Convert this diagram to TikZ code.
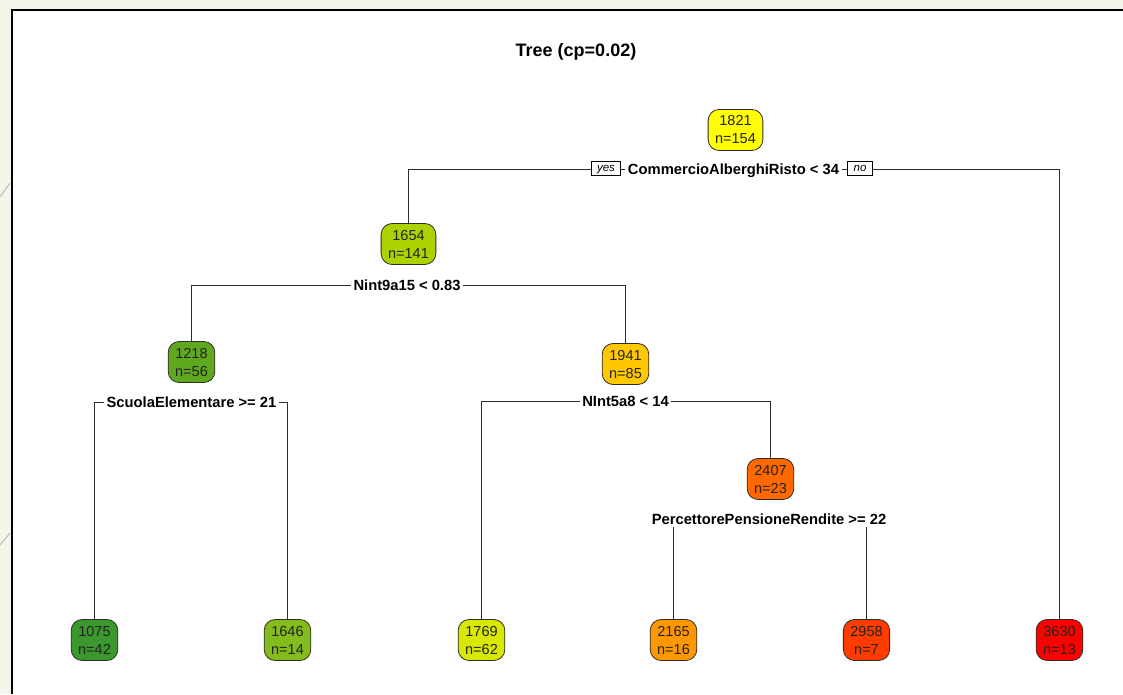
\documentclass[tikz,border=0pt]{standalone}
\usepackage{fontspec}
\setmainfont{Liberation Sans}
\pgfdeclarelayer{back}
\pgfdeclarelayer{mid}
\pgfsetlayers{back,mid,main}
\definecolor{bgc}{RGB}{243,245,234}
\definecolor{edgec}{RGB}{45,45,45}
\definecolor{txtc}{RGB}{35,35,35}
\definecolor{cA}{RGB}{255,255,0}
\definecolor{cB}{RGB}{172,210,0}
\definecolor{cC}{RGB}{95,168,32}
\definecolor{cD}{RGB}{255,200,0}
\definecolor{cE}{RGB}{255,105,0}
\definecolor{cF}{RGB}{58,152,46}
\definecolor{cG}{RGB}{132,188,28}
\definecolor{cH}{RGB}{216,232,0}
\definecolor{cI}{RGB}{255,152,0}
\definecolor{cJ}{RGB}{255,60,0}
\definecolor{cK}{RGB}{255,0,0}
\begin{document}
\begin{tikzpicture}[x=1pt,y=-1pt,
  valnode/.style={draw=edgec, line width=0.8pt, rounded corners=11pt, minimum height=41pt,
    inner ysep=0pt, inner xsep=7pt, align=center, text=txtc,
    font=\fontsize{14.5}{18}\selectfont},
  splitlab/.style={fill=white, inner xsep=2.5pt, inner ysep=2.5pt, text height=10.5pt,
    text depth=0pt, font=\bfseries\fontsize{14.75}{18}\selectfont},
  ynbox/.style={draw=black, fill=white, line width=0.7pt, minimum height=14pt,
    inner xsep=5.8pt, inner ysep=0pt, text height=6pt, text depth=0pt,
    font=\itshape\fontsize{11.5}{13}\selectfont},
  conn/.style={draw=edgec, line width=1.3pt},
  decoline/.style={draw=gray!60, line width=0.8pt}
]
\useasboundingbox (0,0) rectangle (1123,694);
\begin{pgfonlayer}{back}
  \fill[bgc] (0,0) rectangle (1123,694);
  \draw[decoline] (0,197) -- (10,183);
  \draw[decoline] (0,545) -- (10,533);
  \fill[white] (12.2,10.2) rectangle (1123,694);
  \draw[black, line width=2.3pt] (12.2,694) -- (12.2,10.2) -- (1123,10.2);
\end{pgfonlayer}

% title
\node[anchor=base, font=\bfseries\fontsize{18}{20}\selectfont] (title) at (576,56) {Tree (cp=0.02)};

% tree nodes
\node[valnode, fill=cA] (n1821) at (735.5,130) {1821\\n=154};
\node[valnode, fill=cB] (n1654) at (408.5,244) {1654\\n=141};
\node[valnode, fill=cC] (n1218) at (191.5,362) {1218\\n=56};
\node[valnode, fill=cD] (n1941) at (625.5,364) {1941\\n=85};
\node[valnode, fill=cE] (n2407) at (770.5,479) {2407\\n=23};
\node[valnode, fill=cF] (n1075) at (94.5,640) {1075\\n=42};
\node[valnode, fill=cG] (n1646) at (287.5,640) {1646\\n=14};
\node[valnode, fill=cH] (n1769) at (481.5,640) {1769\\n=62};
\node[valnode, fill=cI] (n2165) at (673.5,640) {2165\\n=16};
\node[valnode, fill=cJ] (n2958) at (866.5,640) {2958\\n=7};
\node[valnode, fill=cK] (n3630) at (1059.5,640) {3630\\n=13};

% split labels
\node[splitlab] (s1) at (733.5,169.5) {CommercioAlberghiRisto < 34};
\node[ynbox] (yes) at (606,168) {yes};
\node[ynbox] (no) at (860,168) {no};
\node[splitlab] (s2) at (407,285.5) {Nint9a15 < 0.83};
\node[splitlab] (s3) at (191.5,402.5) {ScuolaElementare >= 21};
\node[splitlab] (s4) at (625.5,401.5) {NInt5a8 < 14};
\node[splitlab] (s5) at (769,519) {PercettorePensioneRendite >= 22};

% connectors
\begin{pgfonlayer}{mid}
  \draw[conn] (n1654.north) |- (s1.center) -| (n3630.north);
  \draw[conn] (n1218.north) |- (s2.center) -| (n1941.north);
  \draw[conn] (n1075.north) |- (s3.center) -| (n1646.north);
  \draw[conn] (n1769.north) |- (s4.center) -| (n2407.north);
  \draw[conn] (n2165.north) |- (s5.center) -| (n2958.north);
\end{pgfonlayer}
\end{tikzpicture}
\end{document}
